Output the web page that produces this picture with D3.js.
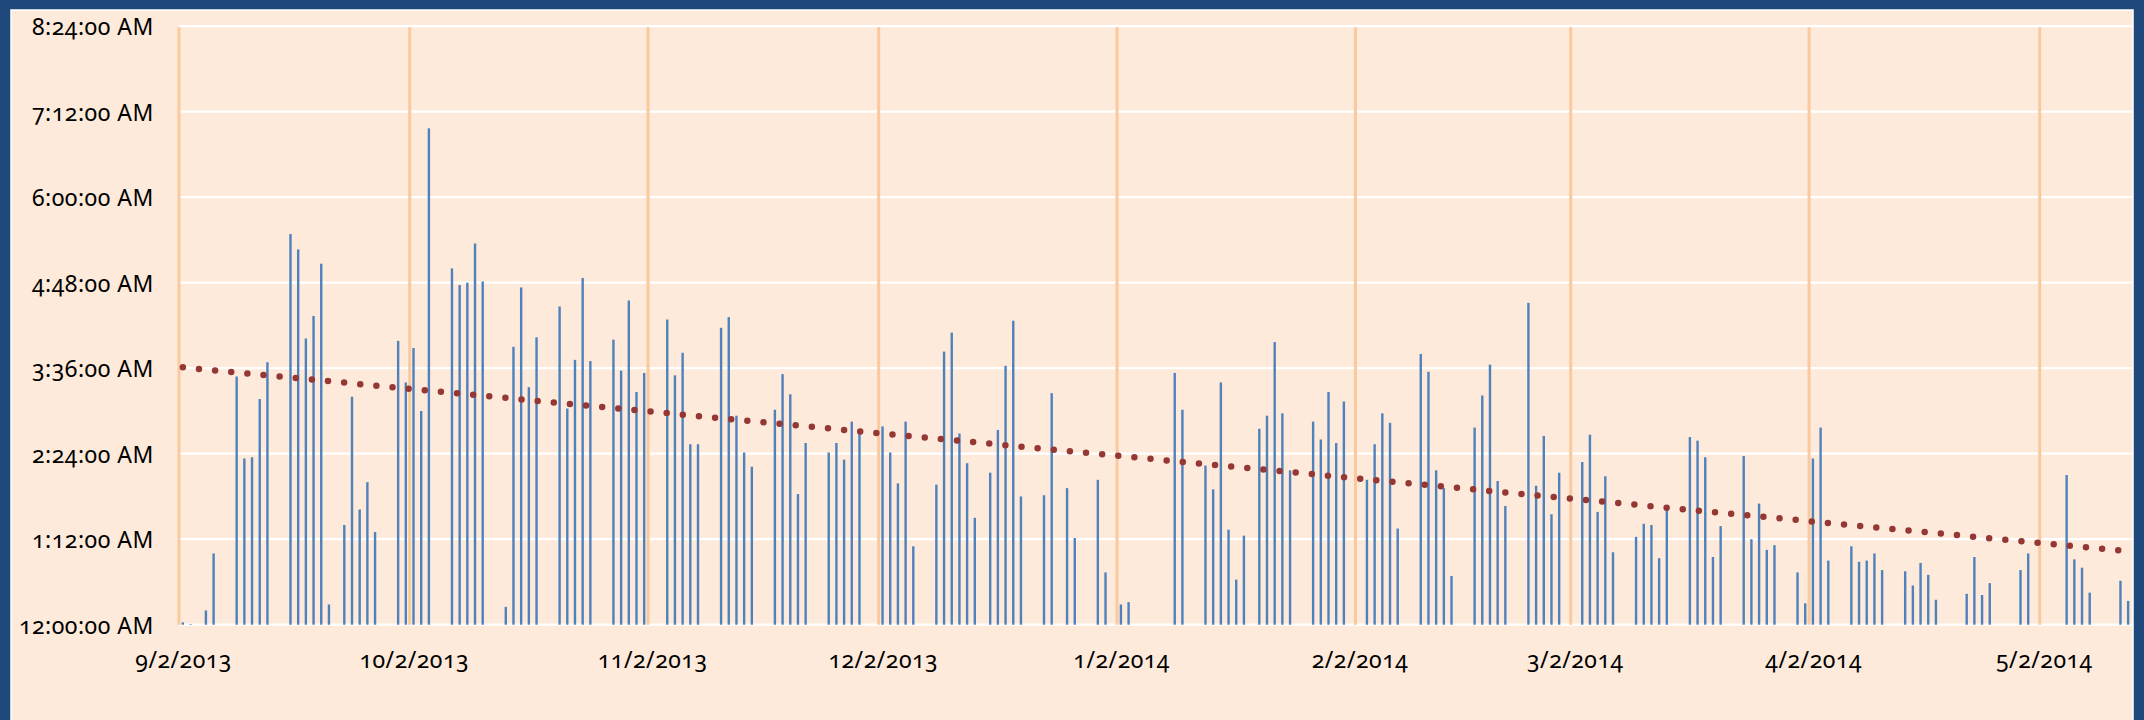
<!DOCTYPE html>
<html><head><meta charset="utf-8">
<script src="https://cdn.jsdelivr.net/npm/d3@7"></script>
<style>
html,body{margin:0;padding:0;background:#1F497D;overflow:hidden;}
svg{display:block;}
text{font-family:"Noto Sans",sans-serif;font-variant-numeric:oldstyle-nums;}
</style></head><body>
<svg id="chart" width="2144" height="720"></svg>
<script>
// ---- data ----
const dates = [
"9/2/2013","9/3/2013","9/5/2013","9/6/2013","9/9/2013","9/10/2013","9/11/2013","9/12/2013","9/13/2013",
"9/16/2013","9/17/2013","9/18/2013","9/19/2013","9/20/2013","9/21/2013","9/23/2013","9/24/2013","9/25/2013",
"9/26/2013","9/27/2013","9/30/2013","10/1/2013","10/2/2013","10/3/2013","10/4/2013","10/7/2013","10/8/2013",
"10/9/2013","10/10/2013","10/11/2013","10/14/2013","10/15/2013","10/16/2013","10/17/2013","10/18/2013",
"10/21/2013","10/22/2013","10/23/2013","10/24/2013","10/25/2013","10/28/2013","10/29/2013","10/30/2013",
"10/31/2013","11/1/2013","11/4/2013","11/5/2013","11/6/2013","11/7/2013","11/8/2013","11/11/2013",
"11/12/2013","11/13/2013","11/14/2013","11/15/2013","11/18/2013","11/19/2013","11/20/2013","11/21/2013",
"11/22/2013","11/25/2013","11/26/2013","11/27/2013","11/28/2013","11/29/2013","12/2/2013","12/3/2013",
"12/4/2013","12/5/2013","12/6/2013","12/9/2013","12/10/2013","12/11/2013","12/12/2013","12/13/2013",
"12/14/2013","12/16/2013","12/17/2013","12/18/2013","12/19/2013","12/20/2013","12/23/2013","12/24/2013",
"12/26/2013","12/27/2013","12/30/2013","12/31/2013","1/2/2014","1/3/2014","1/9/2014","1/10/2014",
"1/13/2014","1/14/2014","1/15/2014","1/16/2014","1/17/2014","1/18/2014","1/20/2014","1/21/2014",
"1/22/2014","1/23/2014","1/24/2014","1/27/2014","1/28/2014","1/29/2014","1/30/2014","1/31/2014",
"2/3/2014","2/4/2014","2/5/2014","2/6/2014","2/7/2014","2/10/2014","2/11/2014","2/12/2014","2/13/2014",
"2/14/2014","2/17/2014","2/18/2014","2/19/2014","2/20/2014","2/21/2014","2/24/2014","2/25/2014",
"2/26/2014","2/27/2014","2/28/2014","3/3/2014","3/4/2014","3/5/2014","3/6/2014","3/7/2014","3/10/2014",
"3/11/2014","3/12/2014","3/13/2014","3/14/2014","3/17/2014","3/18/2014","3/19/2014","3/20/2014",
"3/21/2014","3/24/2014","3/25/2014","3/26/2014","3/27/2014","3/28/2014","3/31/2014","4/1/2014",
"4/2/2014","4/3/2014","4/4/2014","4/7/2014","4/8/2014","4/9/2014","4/10/2014","4/11/2014","4/14/2014",
"4/15/2014","4/16/2014","4/17/2014","4/18/2014","4/22/2014","4/23/2014","4/24/2014","4/25/2014",
"4/29/2014","4/30/2014","5/5/2014","5/6/2014","5/7/2014","5/8/2014","5/12/2014","5/13/2014"
];
// duration after 12:00:00 AM, in minutes
const minutes = [
2,0.5,12,60,209,140,141,190,221,
329,316,241,260,304,17,84,192,97,
120,78,239,204,233,180,418,300,286,
288,321,289,15,234,284,200,242,
268,182,223,292,222,240,214,273,
196,212,257,210,229,152,152,250,
259,176,145,133,181,211,194,110,
153,145,153,139,171,162,167,145,
119,171,66,118,230,246,161,136,
90,128,164,218,256,108,109,195,
115,73,122,44,17,19,212,181,
134,114,204,80,38,75,165,176,
238,178,130,171,156,196,153,188,
122,152,178,170,81,228,213,130,115,
41,166,193,219,121,100,271,117,
159,93,128,137,160,95,125,61,74,
85,84,56,99,158,155,141,57,
83,142,72,102,63,67,44,18,
140,166,54,66,53,54,60,46,45,
33,52,42,21,26,57,25,35,
46,60,126,55,48,27,37,20
];
const monthTicks = ["9/2/2013","10/2/2013","11/2/2013","12/2/2013","1/2/2014","2/2/2014","3/2/2014","4/2/2014","5/2/2014"];
const yTicks = [0,72,144,216,288,360,432,504];
const axisRange = ["9/2/2013","5/14/2014"];
const trendDates = ["9/2/2013","5/13/2014"];
const trendMinutes = [216.7,61.8];

// ---- drawing ----
(function(){
const W = 2144, H = 720;
const pLeft = 179, pRight = 2132, pTop = 26.2, pBottom = 624.7;
const parse = d3.utcParse("%m/%d/%Y");
const svg = d3.select("#chart");

svg.append("rect").attr("x",0).attr("y",0).attr("width",W).attr("height",H).attr("fill","#1F497D");
svg.append("rect").attr("x",11).attr("y",10).attr("width",2122).attr("height",H).attr("fill","#FDEADA")
  .attr("stroke","#FFFFFF").attr("stroke-width",1.5);

const x = d3.scaleUtc().domain(axisRange.map(parse)).range([pLeft,pRight]);
const slot = x(parse("9/3/2013")) - x(parse("9/2/2013"));
const y = d3.scaleLinear().domain([0,504]).range([pBottom,pTop]);

// horizontal gridlines
svg.append("g").selectAll("line").data(yTicks).join("line")
  .attr("x1",pLeft).attr("x2",pRight).attr("y1",d=>y(d)).attr("y2",d=>y(d))
  .attr("stroke","#FFFFFF").attr("stroke-width",2.2);

// vertical month gridlines
svg.append("g").selectAll("line").data(monthTicks).join("line")
  .attr("x1",d=>x(parse(d))).attr("x2",d=>x(parse(d))).attr("y1",y(504)+1).attr("y2",pBottom)
  .attr("stroke","#FAC99E").attr("stroke-width",3);

// bars
const bw = 2.4;
svg.append("g").selectAll("rect").data(dates.map((d,i)=>({d:parse(d),v:minutes[i]}))).join("rect")
  .attr("x",d=>x(d.d)+slot/2-bw/2).attr("width",bw)
  .attr("y",d=>y(d.v)).attr("height",d=>y(0)-y(d.v))
  .attr("fill","#4F81BD");

// trendline
const line = d3.line().x(d=>x(d[0])+slot/2).y(d=>y(d[1]));
svg.append("path").datum(trendDates.map((d,i)=>[parse(d),trendMinutes[i]]))
  .attr("d",line).attr("fill","none").attr("stroke","#953735").attr("stroke-width",6.5)
  .attr("stroke-linecap","round").attr("stroke-dasharray","0 16.2");

// axes
const fmtTime = m => { const h = Math.floor(m/60), mm = m%60; return (h===0?12:h)+":"+String(mm).padStart(2,"0")+":00 AM"; };
const yAxis = svg.append("g").attr("transform",`translate(${pLeft},0)`)
  .call(d3.axisLeft(y).tickValues(yTicks).tickFormat(fmtTime).tickSize(0).tickPadding(pLeft-153.8));
yAxis.select(".domain").remove();
yAxis.selectAll("text").attr("dy",null).attr("y",8.5).attr("font-size",23).attr("fill","#000")
  .style("letter-spacing","0.5px").style("font-family",'"Noto Sans",sans-serif');

const fmtDate = d3.utcFormat("%-m/%-d/%Y");
const xAxis = svg.append("g").attr("transform",`translate(0,${pBottom})`)
  .call(d3.axisBottom(x).tickValues(monthTicks.map(parse)).tickFormat(fmtDate).tickSize(0));
xAxis.select(".domain").remove();
xAxis.selectAll("text").attr("dy",null).attr("y",43.5).attr("x",slot/2+0.25).attr("font-size",23).attr("fill","#000")
  .style("letter-spacing","0.5px").style("font-family",'"Noto Sans",sans-serif');
})();
</script>
</body></html>
